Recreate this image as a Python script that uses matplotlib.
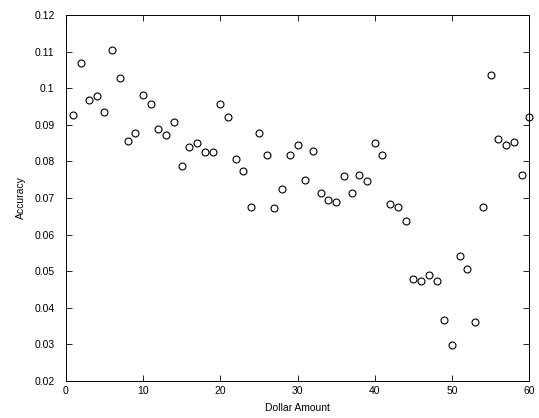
import matplotlib
matplotlib.use("Agg")
import matplotlib.pyplot as plt

dollar_amount = list(range(1, 61))
accuracy = [0.0927, 0.1070, 0.0968, 0.0980, 0.0936, 0.1105, 0.1027, 0.0857, 0.0877, 0.0982,
            0.0956, 0.0889, 0.0872, 0.0907, 0.0787, 0.0839, 0.0851, 0.0825, 0.0825, 0.0956,
            0.0921, 0.0807, 0.0775, 0.0676, 0.0878, 0.0817, 0.0673, 0.0725, 0.0817, 0.0846,
            0.0749, 0.0828, 0.0715, 0.0694, 0.0688, 0.0761, 0.0715, 0.0764, 0.0746, 0.0851,
            0.0817, 0.0685, 0.0676, 0.0638, 0.0478, 0.0474, 0.0489, 0.0474, 0.0366, 0.0299,
            0.0542, 0.0506, 0.0360, 0.0676, 0.1035, 0.0860, 0.0846, 0.0854, 0.0764, 0.0921]

x_ticks = [0, 10, 20, 30, 40, 50, 60]
y_ticks = [0.02, 0.03, 0.04, 0.05, 0.06, 0.07, 0.08, 0.09, 0.10, 0.11, 0.12]
y_tick_labels = ["0.02", "0.03", "0.04", "0.05", "0.06", "0.07", "0.08", "0.09", "0.1", "0.11", "0.12"]

plt.rcParams['font.family'] = ['Liberation Sans', 'DejaVu Sans']

fig = plt.figure(figsize=(5.39, 4.18), dpi=100)
ax = fig.add_axes([0.1219, 0.0885, 0.982 - 0.1219, 0.964 - 0.0885])
ax.plot(dollar_amount, accuracy, linestyle='none', marker='o', markersize=5,
        markerfacecolor='none', markeredgecolor='black', markeredgewidth=0.8,
        clip_on=False, zorder=3)
ax.set_xlim(0, 60)
ax.set_ylim(0.02, 0.12)
ax.set_xticks(x_ticks)
ax.set_yticks(y_ticks)
ax.set_yticklabels(y_tick_labels)
ax.tick_params(direction='in', top=True, right=True, labelsize=7.5, length=4, width=0.6)
ax.tick_params(axis='y', pad=8)
ax.tick_params(axis='x', pad=3.5)
for s in ax.spines.values():
    s.set_linewidth(0.7)
ax.set_xlabel("Dollar Amount", fontsize=7.5, labelpad=5)
ax.set_ylabel("Accuracy", fontsize=7.5, labelpad=6)
fig.savefig("out.png", dpi=100)
